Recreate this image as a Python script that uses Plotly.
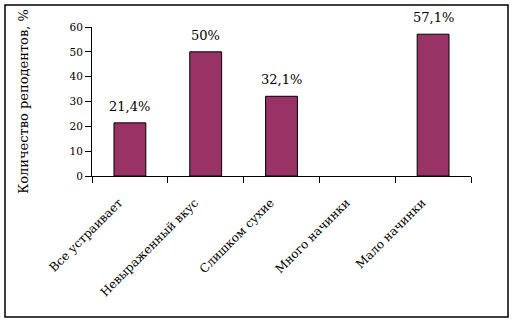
import plotly.graph_objects as go

categories = ["Все устраивает", "Невыраженный вкус", "Слишком сухие", "Много начинки", "Мало начинки"]
values = [21.4, 50.0, 32.1, 0.0, 57.1]
labels = ["21,4%", "50%", "32,1%", "", "57,1%"]
y_ticks = [0, 10, 20, 30, 40, 50, 60]

FONT = "DejaVu Serif"

fig = go.Figure()
fig.add_trace(go.Bar(
    x=categories, y=values,
    marker=dict(color="#993366",
                line=dict(color="black", width=[1 if v > 0 else 0 for v in values])),
    width=0.42,
))

for c, v, t in zip(categories, values, labels):
    if t:
        fig.add_annotation(x=c, y=v, text=t, showarrow=False, yanchor="bottom",
                           yshift=7, font=dict(family=FONT, size=13, color="black"))

fig.update_layout(
    width=513, height=324,
    margin=dict(l=92, r=42, t=27, b=148),
    paper_bgcolor="white", plot_bgcolor="white",
    showlegend=False,
    font=dict(family=FONT, color="black", size=12),
    xaxis=dict(
        showline=True, linecolor="black", linewidth=1,
        ticks="outside", ticklen=6, tickcolor="black", tickson="boundaries",
        tickangle=-45, tickfont=dict(family=FONT, size=12),
        ticklabelstandoff=14, ticklabelshift=-11,
        showgrid=False,
    ),
    yaxis=dict(
        range=[0, 60], tickvals=y_ticks,
        showline=True, linecolor="black", linewidth=1,
        ticks="outside", ticklen=6, tickcolor="black",
        showgrid=False, zeroline=False,
        tickfont=dict(family=FONT, size=10.5),
        title=dict(text="Количество реподентов, %", font=dict(family=FONT, size=13), standoff=37),
    ),
    shapes=[dict(type="rect", xref="paper", yref="paper",
                 x0=-87/379, x1=(508-92)/379, y0=-(317-176)/149, y1=(176-5)/149,
                 line=dict(color="black", width=1.5), fillcolor="rgba(0,0,0,0)")],
)

fig.write_html("out.html")
